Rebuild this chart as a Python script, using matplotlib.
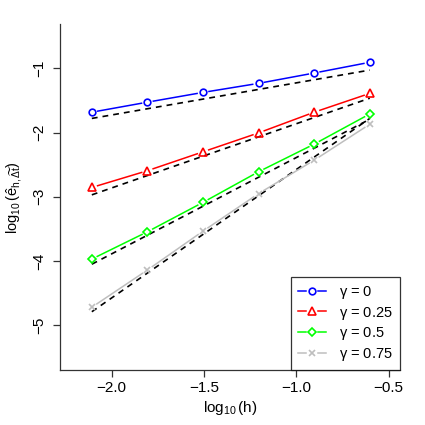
import numpy as np
import matplotlib
matplotlib.use("Agg")
import matplotlib.pyplot as plt
from matplotlib.lines import Line2D
from matplotlib.legend_handler import HandlerBase

plt.rcParams['font.family'] = ['Liberation Sans', 'DejaVu Sans']
plt.rcParams['mathtext.fontset'] = 'custom'
plt.rcParams['mathtext.rm'] = 'Liberation Sans'
plt.rcParams['mathtext.it'] = 'Liberation Sans'
plt.rcParams['mathtext.default'] = 'regular'

# mesh sizes h = 2^-7 ... 2^-2
h = np.array([1/128, 1/64, 1/32, 1/16, 1/8, 1/4])
log_h = np.log10(h)

gammas = ["0", "0.25", "0.5", "0.75"]
err_g0 = [-1.683, -1.527, -1.375, -1.234, -1.073, -0.906]
err_g025 = [-2.855, -2.594, -2.300, -2.005, -1.683, -1.390]
err_g05 = [-3.970, -3.545, -3.087, -2.610, -2.180, -1.710]
err_g075 = [-4.720, -4.140, -3.535, -2.950, -2.430, -1.870]

# dashed reference lines (value at first h, slope)
ref_start = [-1.78, -2.97, -4.05, -4.79]
ref_slope = [0.5, 1.0, 1.5, 2.0]

colors = ['#0000FF', '#FF0000', '#00FF00', '#BEBEBE']
markers = ['o', '^', 'D', 'x']
msizes = [4.8, 5.5, 4.5, 4.8]
GAP = 6.0  # px gap around points, like R type="b"

fig = plt.figure(figsize=(4.25, 4.25), dpi=100)
ax = fig.add_axes([0.141, 0.129, 0.8, 0.8145])
ax.set_xlim(-2.28, -0.439)
ax.set_ylim(-5.70, -0.31)

errs = [err_g0, err_g025, err_g05, err_g075]
for i in range(4):
    ref = ref_start[i] + ref_slope[i] * (log_h - log_h[0])
    ax.plot(log_h[[0, -1]], ref[[0, -1]], color='black', lw=1.2,
            dashes=(3.5, 3.0), zorder=2)

inv = ax.transData.inverted()
for i in range(4):
    pts = ax.transData.transform(np.column_stack([log_h, errs[i]]))
    for j in range(len(pts) - 1):
        d = pts[j + 1] - pts[j]
        u = d / np.hypot(*d)
        seg = inv.transform(np.array([pts[j] + u * GAP, pts[j + 1] - u * GAP]))
        ax.plot(seg[:, 0], seg[:, 1], color=colors[i], lw=1.1, zorder=3)
    ax.plot(log_h, errs[i], ls='none', marker=markers[i], ms=msizes[i],
            mfc='none', mec=colors[i], mew=1.2, zorder=4)


class GapHandler(HandlerBase):
    def __init__(self, color, marker, ms):
        super().__init__()
        self.color, self.marker, self.ms = color, marker, ms

    def create_artists(self, legend, orig, xdescent, ydescent, width, height,
                       fontsize, trans):
        y = height / 2 - ydescent
        x0, x1 = -xdescent, width - xdescent
        xm = (x0 + x1) / 2
        g = 4.5
        a1 = Line2D([x0, xm - g], [y, y], color=self.color, lw=1.1)
        a2 = Line2D([xm + g, x1], [y, y], color=self.color, lw=1.1)
        m = Line2D([xm], [y], ls='none', marker=self.marker, ms=self.ms,
                   mfc='none', mec=self.color, mew=1.2)
        for a in (a1, a2, m):
            a.set_transform(trans)
        return [a1, a2, m]


handles = [Line2D([], [], color=c) for c in colors]
labels = [r'$\gamma$ = ' + g for g in gammas]
hmap = {handles[i]: GapHandler(colors[i], markers[i], msizes[i]) for i in range(4)}

ax.set_xticks([-2.0, -1.5, -1.0, -0.5])
ax.set_xticklabels(['\u22122.0', '\u22121.5', '\u22121.0', '\u22120.5'])
ax.set_yticks([-5, -4, -3, -2, -1])
ax.set_yticklabels(['\u22125', '\u22124', '\u22123', '\u22122', '\u22121'],
                   rotation=90, va='center')
ax.spines['top'].set_visible(False)
ax.spines['right'].set_visible(False)
for s in ['left', 'bottom']:
    ax.spines[s].set_color('#333333')
    ax.spines[s].set_linewidth(0.9)
ax.tick_params(direction='out', length=5, width=0.9, labelsize=11,
               colors='#333333', labelcolor='black')
ax.tick_params(axis='y', pad=5)
ax.tick_params(axis='x', pad=3)

ax.set_xlabel(r'$\log_{10}(h)$', fontsize=11, labelpad=3)
ax.set_ylabel(r'$\log_{10}(\hat{e}_{h,\widetilde{\Delta t}})$', fontsize=10.5,
              labelpad=6)

leg = ax.legend(handles, labels, handler_map=hmap, loc='lower right',
                frameon=True, fancybox=False, edgecolor='black', fontsize=10.5,
                handlelength=1.9, borderaxespad=0.0, borderpad=0.5,
                labelspacing=0.25, handletextpad=0.9)
leg.get_frame().set_linewidth(0.9)

fig.savefig('out.png', dpi=100)
